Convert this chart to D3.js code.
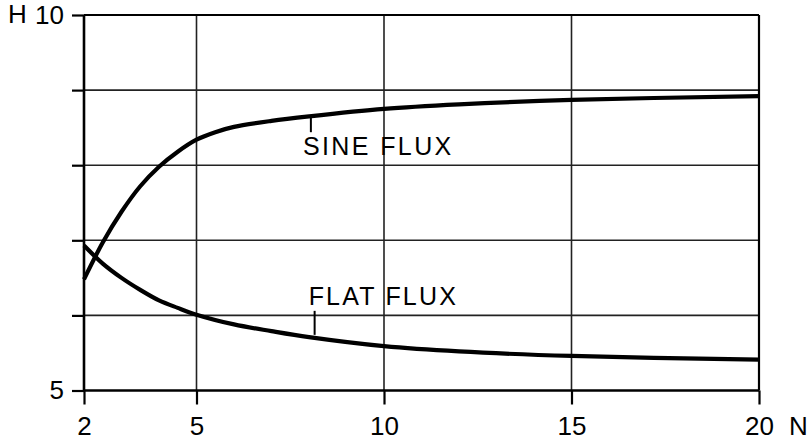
<!DOCTYPE html>
<html>
<head>
<meta charset="utf-8">
<script src="https://cdn.jsdelivr.net/npm/d3@7"></script>
<style>
	html, body { margin: 0; padding: 0; background: #fff; }
	svg text { font-family: "Liberation Sans", Arial, sans-serif; fill: #000; }
</style>
</head>
<body>
<div id="chart"></div>
<script>
// N values and H for each curve
const sineN = [2, 2.5, 3, 3.5, 4, 4.5, 5, 5.5, 6, 7, 8, 10, 12, 15, 20];
const sineH = [6.48, 6.97, 7.38, 7.72, 7.98, 8.18, 8.34, 8.44, 8.51, 8.59, 8.65, 8.75, 8.81, 8.87, 8.92];
const flatN = [2, 2.5, 3, 3.5, 4, 4.5, 5, 6, 7, 8, 10, 12, 15, 20];
const flatH = [6.93, 6.69, 6.5, 6.34, 6.2, 6.1, 6.01, 5.88, 5.79, 5.71, 5.59, 5.52, 5.46, 5.41];
const xTicks = [2, 5, 10, 15, 20];
const xGrid = [5, 10, 15];
const yTicks = [5, 6, 7, 8, 9, 10];
const yLabelled = [5, 10];

const width = 812, height = 441;
const margin = {top: 15, right: 53, bottom: 50.5, left: 84};
const w = width - margin.left - margin.right;
const h = height - margin.top - margin.bottom;

const svg = d3.select('#chart').append('svg')
	.attr('width', width)
	.attr('height', height)
	.append('g')
	.attr('transform', `translate(${margin.left}, ${margin.top})`);

const x = d3.scaleLinear().domain([2, 20]).range([0, w]);
const y = d3.scaleLinear().domain([5, 10]).range([h, 0]);

/* GRID */
svg.selectAll('.hgrid').data(yTicks.filter(d => d > 5 && d < 10)).enter()
	.append('line')
	.attr('x1', 0).attr('x2', w)
	.attr('y1', d => y(d)).attr('y2', d => y(d))
	.attr('stroke', '#222').attr('stroke-width', 1.6);

svg.selectAll('.vgrid').data(xGrid).enter()
	.append('line')
	.attr('x1', d => x(d)).attr('x2', d => x(d))
	.attr('y1', 0).attr('y2', h)
	.attr('stroke', '#222').attr('stroke-width', 1.6);

/* FRAME */
svg.append('line').attr('x1', 0).attr('x2', w).attr('y1', 0).attr('y2', 0)
	.attr('stroke', '#000').attr('stroke-width', 2);
svg.append('line').attr('x1', w).attr('x2', w).attr('y1', 0).attr('y2', h)
	.attr('stroke', '#000').attr('stroke-width', 2.2);

/* AXES */
const yAxis = d3.axisLeft(y)
	.tickValues(yTicks)
	.tickSize(12)
	.tickPadding(8)
	.tickFormat(d => yLabelled.includes(d) ? d : '');
const gy = svg.append('g').call(yAxis);

const xAxis = d3.axisBottom(x)
	.tickValues(xTicks)
	.tickSize(14)
	.tickPadding(12)
	.tickFormat(d => d);
const gx = svg.append('g').attr('transform', `translate(0, ${h})`).call(xAxis);

[gx, gy].forEach(g => {
	g.select('.domain').attr('stroke', '#000').attr('stroke-width', 2.6);
	g.selectAll('.tick line').attr('stroke', '#000').attr('stroke-width', 2.2);
	g.selectAll('.tick text').attr('font-size', 26).style('font-family', '"Liberation Sans", Arial, sans-serif');
});
// the domain path adds outer ticks, draw plain axis lines instead
gx.select('.domain').attr('d', `M0,0H${w}`);
gy.select('.domain').attr('d', `M0,0V${h}`);

svg.append('text').text('H')
	.attr('x', -76).attr('y', y(10))
	.attr('dy', '0.32em')
	.attr('font-size', 26);
svg.append('text').text('N')
	.attr('x', w + 30).attr('y', h + 26)
	.attr('dy', '0.71em')
	.attr('font-size', 26);

/* CURVES */
const line = d3.line()
	.x(d => x(d[0]))
	.y(d => y(d[1]))
	.curve(d3.curveCatmullRom.alpha(0.5));

const sine = sineN.map((n, i) => [n, sineH[i]]);
const flat = flatN.map((n, i) => [n, flatH[i]]);

[sine, flat].forEach(data => {
	svg.append('path')
		.datum(data)
		.attr('d', line)
		.attr('fill', 'none')
		.attr('stroke', '#000')
		.attr('stroke-width', 4.2)
		.attr('stroke-linecap', 'butt');
});

/* LABELS */
function valueAt(ns, hs, n) {
	return d3.scaleLinear().domain(ns).range(hs)(n);
}

const sineAt = 8.05, flatAt = 8.15;
svg.append('line')
	.attr('x1', x(sineAt)).attr('x2', x(sineAt))
	.attr('y1', y(valueAt(sineN, sineH, sineAt))).attr('y2', y(valueAt(sineN, sineH, sineAt)) + 16)
	.attr('stroke', '#000').attr('stroke-width', 2);
svg.append('text').text('SINE FLUX')
	.attr('x', x(sineAt) - 8).attr('y', 140)
	.attr('font-size', 25)
	.attr('letter-spacing', 2.4);

svg.append('line')
	.attr('x1', x(flatAt)).attr('x2', x(flatAt))
	.attr('y1', y(valueAt(flatN, flatH, flatAt)) - 3).attr('y2', y(valueAt(flatN, flatH, flatAt)) - 27)
	.attr('stroke', '#000').attr('stroke-width', 2);
svg.append('text').text('FLAT FLUX')
	.attr('x', x(flatAt) - 6).attr('y', 290)
	.attr('font-size', 25)
	.attr('letter-spacing', 2.2);
</script>
</body>
</html>
